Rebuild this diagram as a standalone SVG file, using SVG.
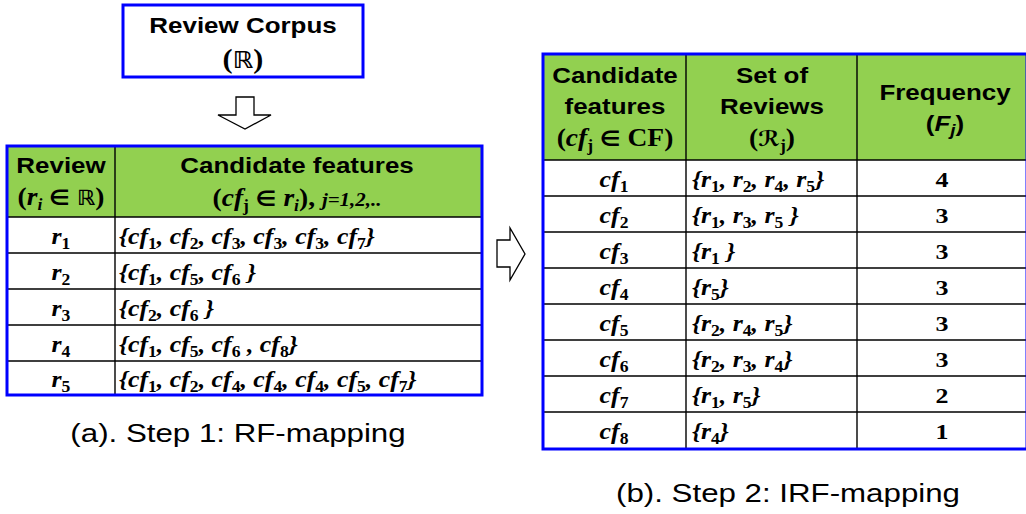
<svg xmlns="http://www.w3.org/2000/svg" width="1026" height="514" viewBox="0 0 1026 514">
<style>
.bg{fill:#ffffff}
.box{fill:#ffffff;stroke:#0000ff;stroke-width:3}
.tbl{fill:none;stroke:#0000ff;stroke-width:3}
.hdr{fill:#92d050}
.grid{stroke:#000000;stroke-width:1.4;fill:none}
.arrow{fill:#ffffff;stroke:#000000;stroke-width:1.3;stroke-linejoin:miter}
.hd{font-family:"Liberation Sans",Arial,sans-serif;font-weight:bold;font-size:22px;fill:#000}
.cap{font-family:"Liberation Sans",Arial,sans-serif;font-size:26.5px;fill:#000}
.tm{font-family:"Liberation Serif","Times New Roman","DejaVu Serif",serif;font-weight:bold;font-style:italic;font-size:23.5px;fill:#000}
.tu{font-family:"Liberation Serif","Times New Roman","DejaVu Serif",serif;font-weight:bold;font-size:25px;fill:#000}
.num{font-family:"Liberation Serif","Times New Roman",serif;font-weight:bold;font-size:22px;fill:#000}
.it{font-style:italic}
.sb{font-size:16px;font-style:normal;baseline-shift:-4.5px}
.sbi{font-size:16px;font-style:italic;baseline-shift:-4.5px}
.sym{font-family:"DejaVu Sans",sans-serif;font-weight:bold;font-style:normal;font-size:21px}
.small{font-size:19px}
</style>
<rect class="bg" x="0" y="0" width="1026" height="514"/>

<g id="corpus">
  <rect class="box" x="123" y="5" width="240" height="72"/>
  <text class="hd" text-anchor="middle" transform="translate(243 33) scale(1.18 1)">Review Corpus</text>
  <text class="tu" text-anchor="middle" transform="translate(243 68) scale(1.12 1)" style="font-size:27px">(<tspan class="sym" style="font-size:23px">ℝ</tspan>)</text>
</g>

<g id="connectors">
  <path class="arrow" d="M236,97 H254 V115 H271 L245,129 L218,115 H236 Z"/>
  <path class="arrow" d="M497,240 H510 V228 L525,254 L510,280 V267 H497 Z"/>
</g>

<g id="rf-table">
  <rect class="hdr" x="7" y="146" width="475" height="71"/>
  <path class="grid" d="M7,217 H482 M7,253 H482 M7,289 H482 M7,325 H482 M7,361 H482 M115,146 V395"/>
  <rect class="tbl" x="7" y="146" width="475" height="249"/>
  <text class="hd" text-anchor="middle" transform="translate(61 173) scale(1.18 1)">Review</text>
  <text class="tu" text-anchor="middle" transform="translate(61 205) scale(1.1 1)">(<tspan class="it">r</tspan><tspan class="sbi">i</tspan> <tspan class="sym">∈</tspan> <tspan class="sym">ℝ</tspan>)</text>
  <text class="hd" text-anchor="middle" transform="translate(297 173) scale(1.18 1)">Candidate features</text>
  <text class="tu" text-anchor="middle" transform="translate(297 206) scale(1.1 1)">(<tspan class="it">cf</tspan><tspan class="sb">j</tspan> <tspan class="sym">∈</tspan> <tspan class="it">r</tspan><tspan class="sbi">i</tspan>), <tspan class="it small">j=1,2,..</tspan></text>

  <text class="tm" text-anchor="middle" transform="translate(61 244) scale(1.1 1)">r<tspan class="sb">1</tspan></text>
  <text class="tm" text-anchor="middle" transform="translate(61 280) scale(1.1 1)">r<tspan class="sb">2</tspan></text>
  <text class="tm" text-anchor="middle" transform="translate(61 316) scale(1.1 1)">r<tspan class="sb">3</tspan></text>
  <text class="tm" text-anchor="middle" transform="translate(61 352) scale(1.1 1)">r<tspan class="sb">4</tspan></text>
  <text class="tm" text-anchor="middle" transform="translate(61 387) scale(1.1 1)">r<tspan class="sb">5</tspan></text>

  <text class="tm" transform="translate(119 244) scale(1.1 1)">{cf<tspan class="sb">1</tspan>, cf<tspan class="sb">2</tspan>, cf<tspan class="sb">3</tspan>, cf<tspan class="sb">3</tspan>, cf<tspan class="sb">3</tspan>, cf<tspan class="sb">7</tspan>}</text>
  <text class="tm" transform="translate(119 280) scale(1.1 1)">{cf<tspan class="sb">1</tspan>, cf<tspan class="sb">5</tspan>, cf<tspan class="sb">6</tspan> }</text>
  <text class="tm" transform="translate(119 316) scale(1.1 1)">{cf<tspan class="sb">2</tspan>, cf<tspan class="sb">6</tspan> }</text>
  <text class="tm" transform="translate(119 352) scale(1.1 1)">{cf<tspan class="sb">1</tspan>, cf<tspan class="sb">5</tspan>, cf<tspan class="sb">6</tspan> , cf<tspan class="sb">8</tspan>}</text>
  <text class="tm" transform="translate(119 387) scale(1.1 1)">{cf<tspan class="sb">1</tspan>, cf<tspan class="sb">2</tspan>, cf<tspan class="sb">4</tspan>, cf<tspan class="sb">4</tspan>, cf<tspan class="sb">4</tspan>, cf<tspan class="sb">5</tspan>, cf<tspan class="sb">7</tspan>}</text>
</g>

<g id="caption-a">
  <text class="cap" text-anchor="middle" transform="translate(238 442) scale(1.18 1)">(a). Step 1: RF-mapping</text>
</g>

<g id="irf-table">
  <rect class="hdr" x="543" y="54" width="484" height="106"/>
  <path class="grid" d="M543,160 H1027 M543,196 H1027 M543,232 H1027 M543,268 H1027 M543,304 H1027 M543,340 H1027 M543,376 H1027 M543,412 H1027 M686,54 V449 M857,54 V449"/>
  <rect class="tbl" x="543" y="54" width="484" height="395"/>

  <text class="hd" text-anchor="middle" transform="translate(615 83) scale(1.18 1)">Candidate</text>
  <text class="hd" text-anchor="middle" transform="translate(615 114) scale(1.18 1)">features</text>
  <text class="tu" text-anchor="middle" transform="translate(615 146) scale(1.1 1)">(<tspan class="it">cf</tspan><tspan class="sb">j</tspan> <tspan class="sym">∈</tspan> CF)</text>
  <text class="hd" text-anchor="middle" transform="translate(772 83) scale(1.18 1)">Set of</text>
  <text class="hd" text-anchor="middle" transform="translate(772 114) scale(1.18 1)">Reviews</text>
  <text class="tu" text-anchor="middle" transform="translate(772 146) scale(1.1 1)">(<tspan class="sym">ℛ</tspan><tspan class="sb">j</tspan>)</text>
  <text class="hd" text-anchor="middle" transform="translate(945 100) scale(1.18 1)">Frequency</text>
  <text class="hd" text-anchor="middle" transform="translate(945 131) scale(1.18 1)">(<tspan class="it">F</tspan><tspan class="sbi">j</tspan>)</text>

  <text class="tm" text-anchor="middle" transform="translate(614 187) scale(1.1 1)">cf<tspan class="sb">1</tspan></text>
  <text class="tm" text-anchor="middle" transform="translate(614 223) scale(1.1 1)">cf<tspan class="sb">2</tspan></text>
  <text class="tm" text-anchor="middle" transform="translate(614 259) scale(1.1 1)">cf<tspan class="sb">3</tspan></text>
  <text class="tm" text-anchor="middle" transform="translate(614 295) scale(1.1 1)">cf<tspan class="sb">4</tspan></text>
  <text class="tm" text-anchor="middle" transform="translate(614 331) scale(1.1 1)">cf<tspan class="sb">5</tspan></text>
  <text class="tm" text-anchor="middle" transform="translate(614 367) scale(1.1 1)">cf<tspan class="sb">6</tspan></text>
  <text class="tm" text-anchor="middle" transform="translate(614 403) scale(1.1 1)">cf<tspan class="sb">7</tspan></text>
  <text class="tm" text-anchor="middle" transform="translate(614 439) scale(1.1 1)">cf<tspan class="sb">8</tspan></text>

  <text class="tm" transform="translate(692 187) scale(1.1 1)">{r<tspan class="sb">1</tspan>, r<tspan class="sb">2</tspan>, r<tspan class="sb">4</tspan>, r<tspan class="sb">5</tspan>}</text>
  <text class="tm" transform="translate(692 223) scale(1.1 1)">{r<tspan class="sb">1</tspan>, r<tspan class="sb">3</tspan>, r<tspan class="sb">5</tspan> }</text>
  <text class="tm" transform="translate(692 259) scale(1.1 1)">{r<tspan class="sb">1</tspan> }</text>
  <text class="tm" transform="translate(692 295) scale(1.1 1)">{r<tspan class="sb">5</tspan>}</text>
  <text class="tm" transform="translate(692 331) scale(1.1 1)">{r<tspan class="sb">2</tspan>, r<tspan class="sb">4</tspan>, r<tspan class="sb">5</tspan>}</text>
  <text class="tm" transform="translate(692 367) scale(1.1 1)">{r<tspan class="sb">2</tspan>, r<tspan class="sb">3</tspan>, r<tspan class="sb">4</tspan>}</text>
  <text class="tm" transform="translate(692 403) scale(1.1 1)">{r<tspan class="sb">1</tspan>, r<tspan class="sb">5</tspan>}</text>
  <text class="tm" transform="translate(692 439) scale(1.1 1)">{r<tspan class="sb">4</tspan>}</text>

  <text class="num" text-anchor="middle" transform="translate(942 187) scale(1.18 1)">4</text>
  <text class="num" text-anchor="middle" transform="translate(942 223) scale(1.18 1)">3</text>
  <text class="num" text-anchor="middle" transform="translate(942 259) scale(1.18 1)">3</text>
  <text class="num" text-anchor="middle" transform="translate(942 295) scale(1.18 1)">3</text>
  <text class="num" text-anchor="middle" transform="translate(942 331) scale(1.18 1)">3</text>
  <text class="num" text-anchor="middle" transform="translate(942 367) scale(1.18 1)">3</text>
  <text class="num" text-anchor="middle" transform="translate(942 403) scale(1.18 1)">2</text>
  <text class="num" text-anchor="middle" transform="translate(942 439) scale(1.18 1)">1</text>
</g>

<g id="caption-b">
  <text class="cap" text-anchor="middle" transform="translate(788 502) scale(1.18 1)">(b). Step 2: IRF-mapping</text>
</g>
</svg>
